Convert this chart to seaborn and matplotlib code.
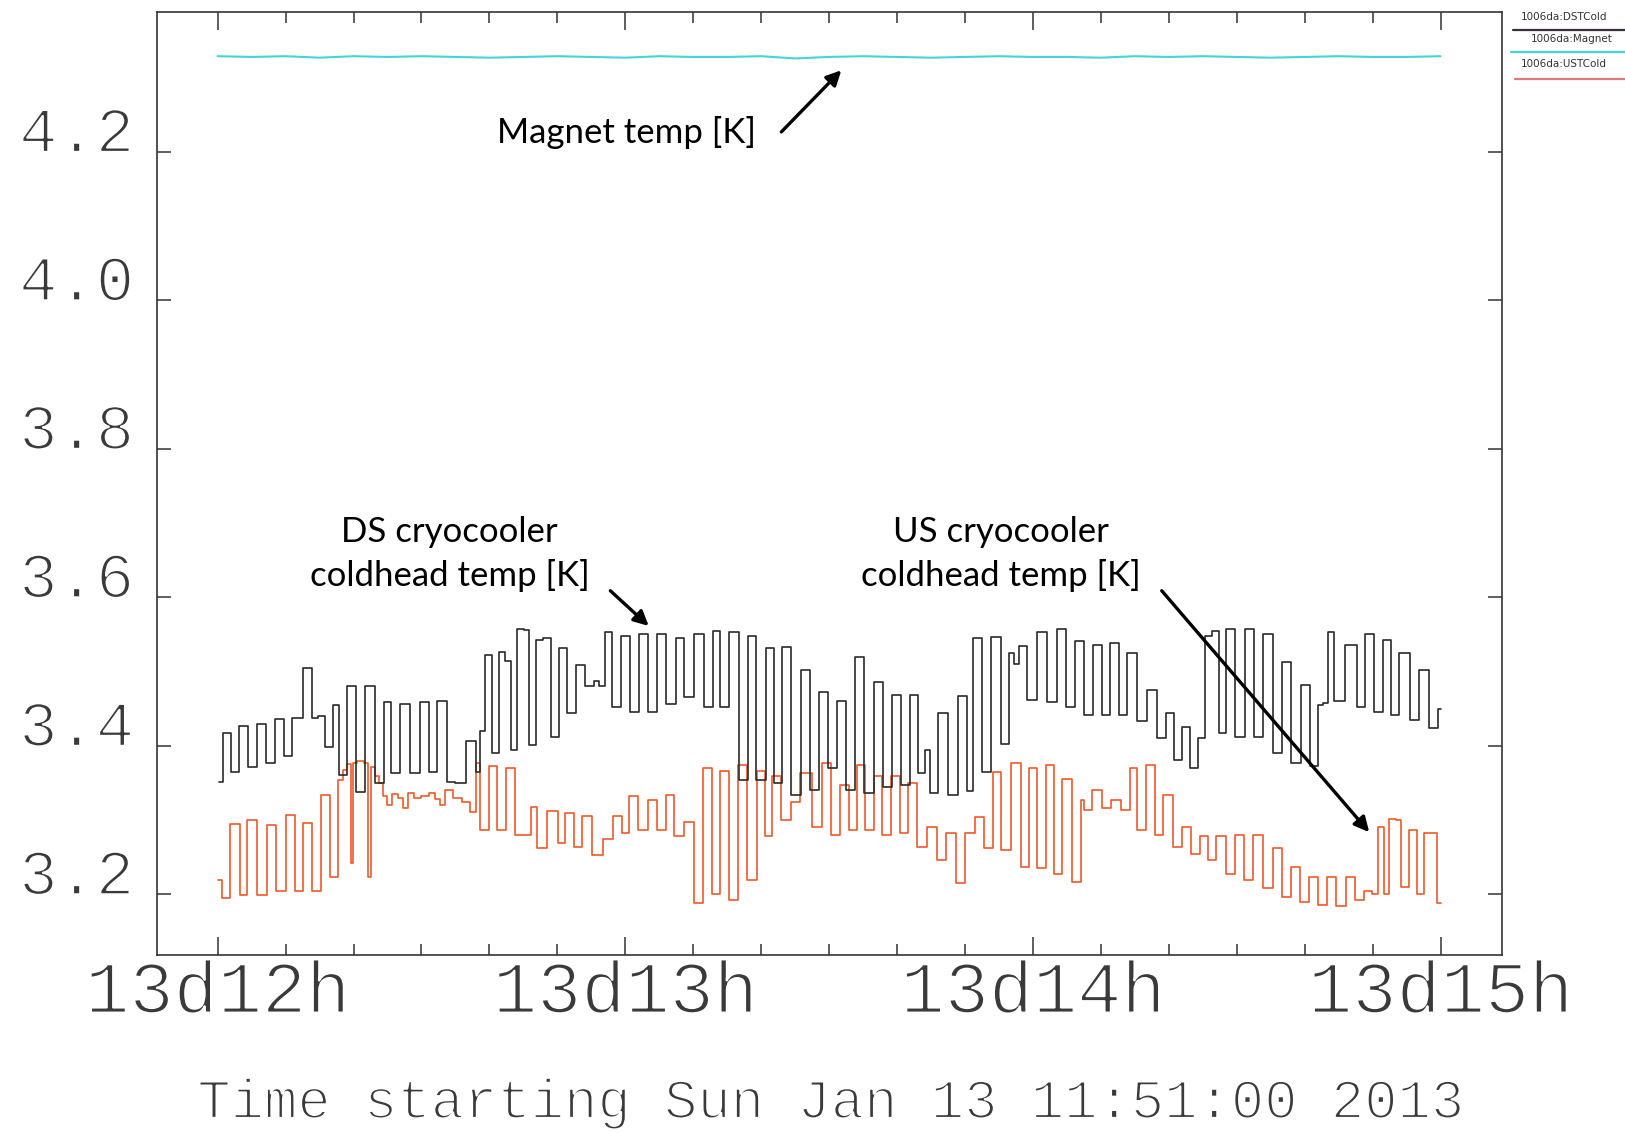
import matplotlib
matplotlib.use("Agg")
import matplotlib.pyplot as plt
import matplotlib.patheffects as pe
from matplotlib.lines import Line2D
import seaborn as sns
import pandas as pd

# ---------------- data (minutes after 13d12h, temperature in K) ----------------
ds_minutes = [0.2, 1.4, 2.55, 3.8, 5.1, 6.5, 7.65, 9.3, 10.25, 11.7,
              13.4, 14.4, 15.1, 16.4, 17.5, 18.3, 19.8, 21.0, 22.4, 24.0,
              25.0, 26.0, 27.6, 29.1, 30.5, 31.6, 33.1, 34.5, 35.3, 37.7,
              38.3, 38.8, 39.9, 40.9, 41.9, 42.8, 43.6, 44.6, 45.5, 46.3,
              47.3, 48.4, 49.65, 50.7, 52.2, 53.2, 54.9, 55.9, 56.4, 57.6,
              58.6, 60.05, 61.3, 62.7, 63.9, 65.35, 66.7, 68.1, 69.3, 70.8,
              72.3, 73.4, 74.5, 76.1, 77.5, 78.7, 79.9, 81.4, 82.4, 83.6,
              85.1, 86.55, 87.8, 89.2, 90.5, 91.9, 93.2, 94.4, 95.9, 97.3,
              98.6, 100.0, 101.3, 102.5, 103.7, 104.4, 105.2, 106.9, 108.1, 109.85,
              110.6, 111.8, 113.3, 114.5, 116.0, 116.9, 117.6, 118.3, 119.9, 121.4,
              122.85, 124.1, 125.55, 126.8, 128.25, 129.5, 130.7, 131.9, 133.4, 134.4,
              136.1, 137.6, 139.05, 140.0, 141.5, 142.5, 143.7, 144.9, 145.9, 146.9,
              147.9, 149.0, 150.6, 151.8, 153.3, 154.5, 156.2, 157.2, 158.7, 160.1,
              161.6, 162.3, 163.0, 163.8, 164.8, 167.0, 168.5, 169.4, 170.9, 172.1,
              173.3, 174.6, 176.3, 177.3, 179.3, 180.0]
ds_temp = [3.351, 3.417, 3.365, 3.427, 3.372, 3.430, 3.377, 3.436, 3.386, 3.437,
           3.505, 3.437, 3.440, 3.399, 3.455, 3.361, 3.480, 3.338, 3.481, 3.350,
           3.459, 3.363, 3.457, 3.363, 3.459, 3.365, 3.461, 3.352, 3.350, 3.406,
           3.365, 3.420, 3.522, 3.390, 3.527, 3.515, 3.394, 3.558, 3.556, 3.401,
           3.543, 3.545, 3.412, 3.532, 3.444, 3.509, 3.480, 3.488, 3.480, 3.554,
           3.453, 3.548, 3.446, 3.551, 3.446, 3.551, 3.457, 3.545, 3.466, 3.551,
           3.453, 3.555, 3.453, 3.554, 3.354, 3.548, 3.354, 3.532, 3.350, 3.533,
           3.334, 3.502, 3.341, 3.473, 3.370, 3.460, 3.341, 3.520, 3.337, 3.486,
           3.345, 3.469, 3.347, 3.469, 3.363, 3.395, 3.337, 3.444, 3.334, 3.467,
           3.339, 3.545, 3.365, 3.547, 3.403, 3.525, 3.510, 3.535, 3.462, 3.554,
           3.459, 3.558, 3.453, 3.541, 3.442, 3.536, 3.442, 3.538, 3.442, 3.525,
           3.433, 3.475, 3.410, 3.444, 3.381, 3.426, 3.370, 3.410, 3.548, 3.555,
           3.417, 3.558, 3.412, 3.558, 3.412, 3.551, 3.390, 3.513, 3.377, 3.482,
           3.373, 3.455, 3.458, 3.554, 3.460, 3.536, 3.453, 3.551, 3.446, 3.543,
           3.442, 3.525, 3.435, 3.502, 3.424, 3.450]

us_minutes = [0.0, 1.2, 2.55, 3.9, 4.85, 6.6, 7.8, 9.3, 10.7, 12.0,
              13.2, 14.5, 15.8, 17.3, 18.1, 18.7, 19.5, 19.8, 20.1, 21.0,
              22.0, 22.4, 22.7, 23.5, 24.0, 24.6, 25.3, 26.0, 27.0, 27.7,
              28.4, 29.5, 30.5, 31.6, 32.5, 33.0, 33.8, 35.5, 36.5, 37.7,
              38.4, 38.9, 40.9, 41.3, 43.6, 44.0, 45.9, 46.3, 47.6, 49.5,
              50.7, 51.7, 53.2, 54.2, 56.1, 57.3, 59.1, 60.05, 61.0, 62.7,
              64.0, 65.45, 66.4, 67.9, 69.4, 70.9, 72.1, 73.4, 74.5, 76.1,
              77.2, 78.7, 80.1, 81.15, 82.1, 83.85, 85.0, 86.55, 88.3, 89.5,
              91.0, 92.2, 93.65, 94.65, 95.9, 97.3, 98.3, 100.0, 101.0, 102.2,
              103.7, 105.2, 106.65, 107.9, 109.35, 110.8, 112.05, 113.5, 114.75, 116.0,
              117.45, 118.9, 119.9, 121.4, 122.4, 123.8, 124.8, 126.8, 127.3, 127.8,
              129.5, 130.7, 132.2, 133.6, 134.9, 135.85, 137.3, 138.55, 139.8, 141.5,
              142.5, 143.95, 145.2, 146.4, 147.6, 149.2, 150.3, 151.8, 153.0, 154.7,
              155.95, 157.4, 158.65, 159.9, 161.4, 162.6, 164.05, 165.3, 166.8, 168.0,
              169.5, 170.2, 171.4, 171.9, 172.9, 173.9, 174.6, 176.1, 177.1, 178.0,
              179.0, 180.0]
us_temp = [3.219, 3.195, 3.295, 3.199, 3.300, 3.199, 3.294, 3.204, 3.307, 3.205,
           3.296, 3.205, 3.334, 3.224, 3.354, 3.368, 3.375, 3.242, 3.377, 3.380,
           3.377, 3.224, 3.372, 3.360, 3.350, 3.332, 3.320, 3.335, 3.330, 3.317,
           3.336, 3.330, 3.333, 3.336, 3.328, 3.320, 3.340, 3.330, 3.325, 3.311,
           3.377, 3.287, 3.373, 3.287, 3.370, 3.280, 3.280, 3.318, 3.262, 3.312,
           3.269, 3.310, 3.264, 3.306, 3.253, 3.275, 3.306, 3.282, 3.332, 3.287,
           3.327, 3.287, 3.334, 3.278, 3.298, 3.188, 3.370, 3.201, 3.366, 3.192,
           3.374, 3.219, 3.366, 3.279, 3.359, 3.300, 3.325, 3.363, 3.291, 3.377,
           3.280, 3.347, 3.287, 3.374, 3.287, 3.359, 3.280, 3.359, 3.282, 3.350,
           3.264, 3.291, 3.246, 3.282, 3.215, 3.282, 3.304, 3.262, 3.365, 3.260,
           3.377, 3.237, 3.370, 3.235, 3.374, 3.228, 3.355, 3.217, 3.327, 3.313,
           3.341, 3.316, 3.327, 3.313, 3.370, 3.287, 3.374, 3.280, 3.334, 3.264,
           3.291, 3.255, 3.278, 3.246, 3.278, 3.228, 3.280, 3.219, 3.280, 3.208,
           3.262, 3.197, 3.237, 3.190, 3.224, 3.186, 3.224, 3.184, 3.224, 3.192,
           3.205, 3.200, 3.291, 3.200, 3.302, 3.300, 3.210, 3.287, 3.200, 3.282,
           3.282, 3.188]

mag_minutes = [0, 5, 10, 15, 20, 25, 30, 35, 40, 45, 50, 55, 60, 65, 70, 75, 80, 85, 90,
               95, 100, 105, 110, 115, 120, 125, 130, 135, 140, 145, 150, 155, 160, 165,
               170, 175, 180]
mag_temp = [4.329, 4.328, 4.329, 4.327, 4.329, 4.328, 4.329, 4.328, 4.327, 4.328,
            4.329, 4.328, 4.327, 4.329, 4.328, 4.328, 4.329, 4.326, 4.328, 4.329,
            4.328, 4.327, 4.328, 4.329, 4.328, 4.328, 4.327, 4.329, 4.328, 4.329,
            4.328, 4.327, 4.328, 4.329, 4.328, 4.328, 4.329]

hour_ticks = [0, 60, 120, 180]
hour_labels = ["13d12h", "13d13h", "13d14h", "13d15h"]
minor_ticks = [10, 20, 30, 40, 50, 70, 80, 90, 100, 110, 130, 140, 150, 160, 170]
y_ticks = [3.2, 3.4, 3.6, 3.8, 4.0, 4.2]
y_labels = ["3.2", "3.4", "3.6", "3.8", "4.0", "4.2"]
x_title = "Time starting Sun Jan 13 11:51:00 2013"
legend_labels = ["1006da:DSTCold", "1006da:Magnet", "1006da:USTCold"]

# ---------------- styling ----------------
sns.set_theme(style="white")
plt.rcParams["font.family"] = ["Liberation Mono", "DejaVu Sans Mono"]

W, H = 1625, 1133
fig = plt.figure(figsize=(W / 100, H / 100), dpi=100)
fig.patch.set_facecolor("white")
left, right, top, bottom = 156.5, 1501.7, 12.4, 954.5
ax = fig.add_axes([left / W, 1 - bottom / H, (right - left) / W, (bottom - top) / H])
ax.set_facecolor("white")

ds_df = pd.DataFrame({"t": ds_minutes, "v": ds_temp})
us_df = pd.DataFrame({"t": us_minutes, "v": us_temp})
mag_df = pd.DataFrame({"t": mag_minutes, "v": mag_temp})

sns.lineplot(data=mag_df, x="t", y="v", ax=ax, color="#45d4d8", lw=1.5,
             estimator=None, sort=False)
sns.lineplot(data=us_df, x="t", y="v", ax=ax, color="#ee5a2c", lw=1.2,
             estimator=None, sort=False, drawstyle="steps-mid")
sns.lineplot(data=ds_df, x="t", y="v", ax=ax, color="#2a2a2a", lw=1.2,
             estimator=None, sort=False, drawstyle="steps-mid")

ax.set_xlim(-9.0, 189.0)
ax.set_ylim(3.119, 4.388)
ax.set_xlabel("")
ax.set_ylabel("")

thin = [pe.Normal(), pe.Stroke(linewidth=1.6, foreground="white")]
axis_col = "#3a3a3a"

ax.set_xticks(hour_ticks)
ax.set_xticklabels(hour_labels, fontsize=53, color=axis_col)
ax.set_xticks(minor_ticks, minor=True)
ax.set_yticks(y_ticks)
ax.set_yticklabels(y_labels, fontsize=46, color=axis_col)
for lab in ax.get_yticklabels():
    lab.set_verticalalignment("baseline")
    lab.set_path_effects(thin)
for lab in ax.get_xticklabels():
    lab.set_path_effects(thin)

ax.tick_params(axis="x", which="major", direction="in", length=13, width=1.1,
               top=True, bottom=True, pad=3, color="#333333")
ax.tick_params(axis="x", which="minor", direction="in", length=8, width=1.1,
               top=True, bottom=True, color="#333333")
ax.tick_params(axis="y", which="major", direction="in", length=10, width=1.1,
               left=True, right=True, pad=16, color="#333333")

for s in ax.spines.values():
    s.set_visible(True)
    s.set_color("#333333")
    s.set_linewidth(1.2)

fig.text(0.5 * (left + right) / W, 1 - 1104 / H, x_title, ha="center", va="center",
         fontsize=40, color=axis_col, path_effects=thin)

# ---------------- annotations ----------------
ann_font = ["Lato", "DejaVu Sans"]
arrow = dict(arrowstyle="-|>", lw=2.4, color="black", mutation_scale=22,
             shrinkA=0, shrinkB=0)
ax.text(60.2, 4.226, "Magnet temp [K]", ha="center", va="center",
        fontsize=25, family=ann_font, color="black")
ax.annotate("", xy=(91.8, 4.310), xytext=(82.97, 4.227), arrowprops=arrow)

ax.text(34.16, 3.6586, "DS cryocooler\ncoldhead temp [K]", ha="center", va="center",
        fontsize=25, family=ann_font, color="black", linespacing=1.42)
ax.annotate("", xy=(63.45, 3.5615), xytext=(57.8, 3.609), arrowprops=arrow)

ax.text(115.3, 3.6586, "US cryocooler\ncoldhead temp [K]", ha="center", va="center",
        fontsize=25, family=ann_font, color="black", linespacing=1.42)
ax.annotate("", xy=(169.5, 3.2838), xytext=(138.96, 3.609), arrowprops=arrow)

# ---------------- small legend at top right (outside the frame) ----------------
leg_colors = ["#3a2e3a", "#45d4d8", "#e07a7a"]
leg_text_y = [17, 39, 64]
leg_text_x = [1521, 1531, 1521]
leg_line_y = [29.5, 51.5, 79]
leg_line_x0 = [1513, 1511, 1515]
for lab, c, ty, tx, ly, lx in zip(legend_labels, leg_colors, leg_text_y, leg_text_x,
                                  leg_line_y, leg_line_x0):
    fig.text(tx / W, 1 - ty / H, lab, ha="left", va="center", fontsize=7.5,
             family=["DejaVu Sans"], color="#333333")
    fig.add_artist(Line2D([lx / W, 1.0], [1 - ly / H, 1 - ly / H],
                          transform=fig.transFigure, color=c, lw=1.6))

fig.savefig("out.png", dpi=100, facecolor="white")
